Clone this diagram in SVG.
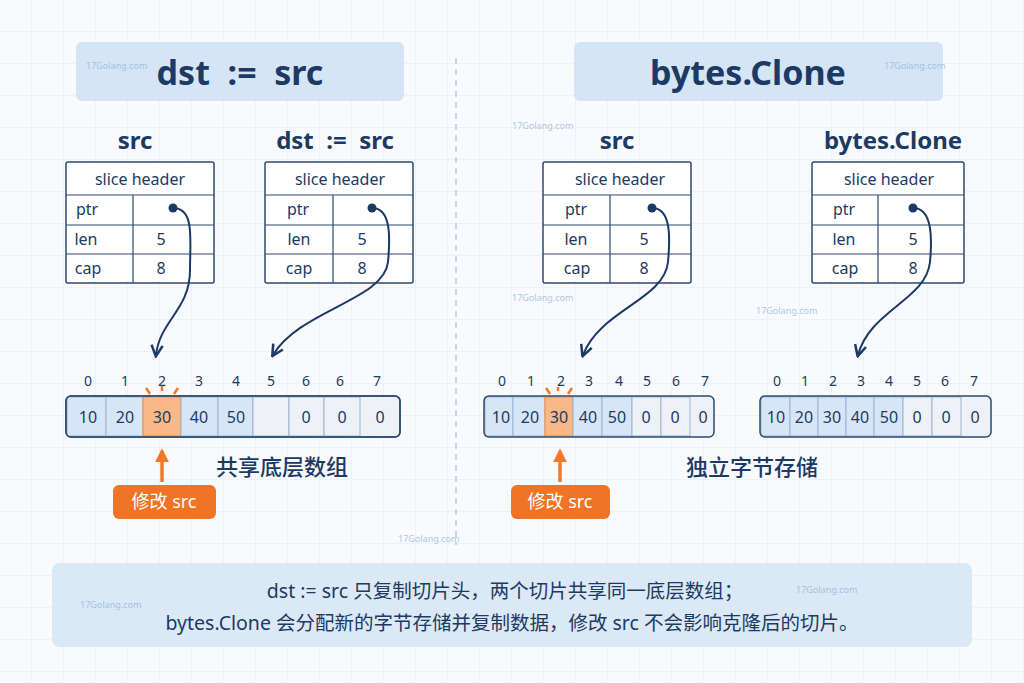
<svg xmlns="http://www.w3.org/2000/svg" width="1024" height="683" viewBox="0 0 1024 683">
<defs>
<pattern id="grid" width="32" height="32" patternUnits="userSpaceOnUse"><path d="M32 0V32H0" fill="none" stroke="#e4ebf3" stroke-width="1"/></pattern>
<marker id="ah" viewBox="0 0 10 10" refX="8" refY="5" markerWidth="7" markerHeight="7" orient="auto-start-reverse"><path d="M1 1L9 5L1 9" fill="none" stroke="#1c3a63" stroke-width="1.8"/></marker>
<marker id="oh" viewBox="0 0 10 10" refX="8" refY="5" markerWidth="4" markerHeight="4" orient="auto"><path d="M0 0L10 5L0 10Z" fill="#f07a2a"/></marker>
</defs>
<style>
text{font-family:"Noto Sans","Noto Sans CJK SC",sans-serif;fill:#1c3a63;text-anchor:middle}
.title{font-size:34px;font-weight:bold}
.lab{font-size:24px;font-weight:bold}
.cell{font-size:16px}
.idx{font-size:14px}
.tb{fill:#fff;stroke:#2b4a72;stroke-width:1.5}
.ln{stroke:#2b4a72;stroke-width:1.2}
.tbox{fill:#d5e5f6}
.blue{fill:#d6e6f7;stroke:#9bb4d0;stroke-width:1}
.grey{fill:#eef2f7;stroke:#9bb4d0;stroke-width:1}
.org{fill:#f8b887;stroke:#f08a40;stroke-width:1}
.conn{fill:none;stroke:#1c3a63;stroke-width:2}
.wm{font-size:9px;fill:#8fb4d8;opacity:.7;text-anchor:start}
.btn{fill:#ef7426}
.bt{fill:#fff;font-size:18px}
.cn{font-size:22px;font-weight:500}
.note{font-size:19.5px}
</style>
<rect width="1024" height="683" fill="#f8fafd"/>
<rect width="1024" height="683" fill="url(#grid)"/>
<line x1="456" y1="58" x2="456" y2="545" stroke="#a9c0d8" stroke-width="1.2" stroke-dasharray="6 5"/>
<g id="title-left"><rect x="76" y="42" width="328" height="59" rx="6" class="tbox"/><text x="240" y="85" class="title" xml:space="preserve">dst  :=  src</text></g>
<g id="title-right"><rect x="574" y="42" width="369" height="59" rx="6" class="tbox"/><text x="748" y="85" class="title">bytes.Clone</text></g>
<g id="labels"><text x="135" y="149" class="lab">src</text><text x="335" y="149" class="lab" xml:space="preserve">dst  :=  src</text><text x="617" y="149" class="lab">src</text><text x="893" y="149" class="lab">bytes.Clone</text></g>
<g id="hdr-src1">
<rect x="66" y="162" width="148" height="121" rx="2" class="tb"/>
<line x1="66" y1="195" x2="214" y2="195" class="ln"/><line x1="66" y1="225" x2="214" y2="225" class="ln"/><line x1="66" y1="254" x2="214" y2="254" class="ln"/><line x1="133" y1="195" x2="133" y2="283" class="ln"/>
<text x="140" y="185" class="cell">slice header</text><text x="87" y="215" class="cell">ptr</text><text x="86" y="245" class="cell">len</text><text x="88" y="274" class="cell">cap</text><text x="161" y="245" class="cell">5</text><text x="161" y="274" class="cell">8</text>
<circle cx="173" cy="208" r="4.5" fill="#1c3a63"/></g>
<g id="hdr-dst">
<rect x="265" y="162" width="148" height="121" rx="2" class="tb"/>
<line x1="265" y1="195" x2="413" y2="195" class="ln"/><line x1="265" y1="225" x2="413" y2="225" class="ln"/><line x1="265" y1="254" x2="413" y2="254" class="ln"/><line x1="333" y1="195" x2="333" y2="283" class="ln"/>
<text x="340" y="185" class="cell">slice header</text><text x="298" y="215" class="cell">ptr</text><text x="299" y="245" class="cell">len</text><text x="299" y="274" class="cell">cap</text><text x="362" y="245" class="cell">5</text><text x="362" y="274" class="cell">8</text>
<circle cx="372" cy="208" r="4.5" fill="#1c3a63"/></g>
<g id="hdr-src2">
<rect x="543" y="162" width="148" height="121" rx="2" class="tb"/>
<line x1="543" y1="195" x2="691" y2="195" class="ln"/><line x1="543" y1="225" x2="691" y2="225" class="ln"/><line x1="543" y1="254" x2="691" y2="254" class="ln"/><line x1="610" y1="195" x2="610" y2="283" class="ln"/>
<text x="620" y="185" class="cell">slice header</text><text x="576" y="215" class="cell">ptr</text><text x="576" y="245" class="cell">len</text><text x="577" y="274" class="cell">cap</text><text x="644" y="245" class="cell">5</text><text x="644" y="274" class="cell">8</text>
<circle cx="652" cy="208" r="4.5" fill="#1c3a63"/></g>
<g id="hdr-clone">
<rect x="812" y="162" width="152" height="121" rx="2" class="tb"/>
<line x1="812" y1="195" x2="964" y2="195" class="ln"/><line x1="812" y1="225" x2="964" y2="225" class="ln"/><line x1="812" y1="254" x2="964" y2="254" class="ln"/><line x1="878" y1="195" x2="878" y2="283" class="ln"/>
<text x="889" y="185" class="cell">slice header</text><text x="844" y="215" class="cell">ptr</text><text x="844" y="245" class="cell">len</text><text x="845" y="274" class="cell">cap</text><text x="913" y="245" class="cell">5</text><text x="913" y="274" class="cell">8</text>
<circle cx="913" cy="208" r="4.5" fill="#1c3a63"/></g>
<g id="connectors">
<path d="M173 208C195 208 190 240 190 270C190 310 160 320 156 355" class="conn" marker-end="url(#ah)"/>
<path d="M372 208C392 208 390 240 388 262C384 300 300 310 273 355" class="conn" marker-end="url(#ah)"/>
<path d="M652 208C672 208 670 240 668 262C664 300 600 310 583 355" class="conn" marker-end="url(#ah)"/>
<path d="M913 208C933 208 932 240 930 262C926 300 870 310 858 355" class="conn" marker-end="url(#ah)"/>
<path d="M162 482V451" stroke="#f07a2a" stroke-width="3.5" fill="none" marker-end="url(#oh)"/>
<path d="M560 482V451" stroke="#f07a2a" stroke-width="3.5" fill="none" marker-end="url(#oh)"/>
</g>
<g id="array-shared">
<rect x="66" y="396" width="334" height="41" rx="5" fill="#eef2f7" stroke="#2b4a72" stroke-width="1.5"/>
<rect x="67" y="397" width="39" height="39" class="blue"/><rect x="106" y="397" width="37" height="39" class="blue"/><rect x="143" y="397" width="38" height="39" class="org"/><rect x="181" y="397" width="37" height="39" class="blue"/><rect x="218" y="397" width="35" height="39" class="blue"/><rect x="253" y="397" width="36" height="39" class="grey"/><rect x="289" y="397" width="35" height="39" class="grey"/><rect x="324" y="397" width="36" height="39" class="grey"/>
<rect x="66" y="396" width="334" height="41" rx="5" fill="none" stroke="#2b4a72" stroke-width="1.5"/>
<g class="cell"><text x="88" y="423">10</text><text x="125" y="423">20</text><text x="162" y="423">30</text><text x="199" y="423">40</text><text x="236" y="423">50</text><text x="306" y="423">0</text><text x="342" y="423">0</text><text x="380" y="423">0</text></g>
<g class="idx"><text x="88" y="386">0</text><text x="125" y="386">1</text><text x="162" y="386">2</text><text x="199" y="386">3</text><text x="236" y="386">4</text><text x="271" y="386">5</text><text x="306" y="386">6</text><text x="340" y="386">6</text><text x="377" y="386">7</text></g>
<path d="M146 388l4 6M162 386v5M178 388l-4 6" stroke="#f07a2a" stroke-width="2.5"/>
</g>
<g id="array-src2">
<rect x="484" y="396" width="230" height="41" rx="5" fill="#eef2f7"/>
<rect x="485" y="397" width="28" height="39" class="blue"/><rect x="513" y="397" width="32" height="39" class="blue"/><rect x="545" y="397" width="28" height="39" class="org"/><rect x="573" y="397" width="29" height="39" class="blue"/><rect x="602" y="397" width="30" height="39" class="blue"/><rect x="632" y="397" width="29" height="39" class="grey"/><rect x="661" y="397" width="29" height="39" class="grey"/>
<rect x="484" y="396" width="230" height="41" rx="5" fill="none" stroke="#2b4a72" stroke-width="1.5"/>
<g class="cell"><text x="501" y="423">10</text><text x="530" y="423">20</text><text x="559" y="423">30</text><text x="588" y="423">40</text><text x="617" y="423">50</text><text x="646" y="423">0</text><text x="675" y="423">0</text><text x="703" y="423">0</text></g>
<g class="idx"><text x="502" y="386">0</text><text x="531" y="386">1</text><text x="561" y="386">2</text><text x="589" y="386">3</text><text x="619" y="386">4</text><text x="647" y="386">5</text><text x="676" y="386">6</text><text x="705" y="386">7</text></g>
<path d="M546 388l4 6M558 387v4M572 388l-4 6" stroke="#f07a2a" stroke-width="2.5"/>
</g>
<g id="array-clone">
<rect x="760" y="396" width="231" height="41" rx="5" fill="#eef2f7"/>
<rect x="761" y="397" width="29" height="39" class="blue"/><rect x="790" y="397" width="28" height="39" class="blue"/><rect x="818" y="397" width="28" height="39" class="blue"/><rect x="846" y="397" width="28" height="39" class="blue"/><rect x="874" y="397" width="29" height="39" class="blue"/><rect x="903" y="397" width="29" height="39" class="grey"/><rect x="932" y="397" width="29" height="39" class="grey"/>
<rect x="760" y="396" width="231" height="41" rx="5" fill="none" stroke="#2b4a72" stroke-width="1.5"/>
<g class="cell"><text x="776" y="423">10</text><text x="804" y="423">20</text><text x="832" y="423">30</text><text x="860" y="423">40</text><text x="889" y="423">50</text><text x="917" y="423">0</text><text x="946" y="423">0</text><text x="975" y="423">0</text></g>
<g class="idx"><text x="777" y="386">0</text><text x="805" y="386">1</text><text x="833" y="386">2</text><text x="861" y="386">3</text><text x="889" y="386">4</text><text x="917" y="386">5</text><text x="945" y="386">6</text><text x="974" y="386">7</text></g>
</g>
<g id="btn-left"><rect x="113" y="485" width="103" height="34" rx="6" class="btn"/><text x="164" y="508" class="bt">修改 src</text></g>
<g id="btn-right"><rect x="511" y="485" width="99" height="34" rx="6" class="btn"/><text x="560" y="508" class="bt">修改 src</text></g>
<text x="282" y="475" class="cn">共享底层数组</text>
<text x="752" y="475" class="cn">独立字节存储</text>
<g id="note"><rect x="52" y="563" width="920" height="84" rx="8" fill="#dbe8f6"/>
<text x="505" y="598" class="note">dst := src 只复制切片头，两个切片共享同一底层数组；</text>
<text x="512" y="630" class="note">bytes.Clone 会分配新的字节存储并复制数据，修改 src 不会影响克隆后的切片。</text></g>
<g id="watermarks">
<text x="86" y="69" class="wm">17Golang.com</text><text x="884" y="69" class="wm">17Golang.com</text><text x="512" y="129" class="wm">17Golang.com</text><text x="512" y="301" class="wm">17Golang.com</text><text x="756" y="314" class="wm">17Golang.com</text><text x="398" y="542" class="wm">17Golang.com</text><text x="796" y="593" class="wm">17Golang.com</text><text x="80" y="608" class="wm">17Golang.com</text>
</g>
</svg>
